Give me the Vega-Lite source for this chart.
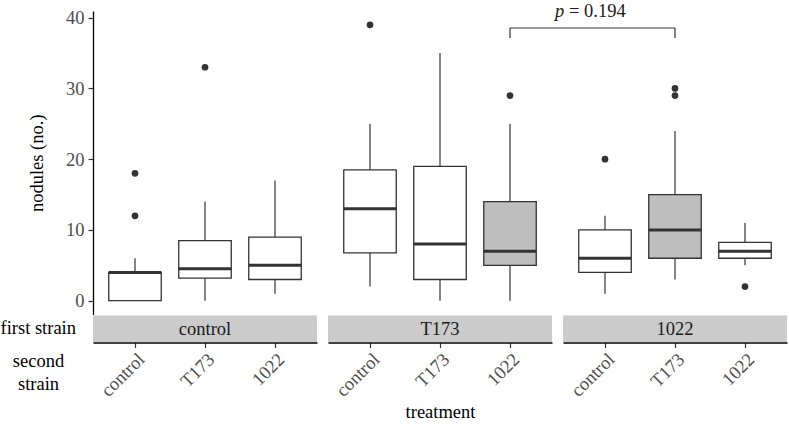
{
  "$schema": "https://vega.github.io/schema/vega-lite/v6.json",
  "padding": {"left": 0, "top": 2, "right": 2, "bottom": 0},
  "background": "white",
  "config": {
    "font": "Liberation Serif",
    "view": {"stroke": null},
    "axis": {
      "grid": false,
      "domainColor": "#000000",
      "domainWidth": 1.3,
      "tickColor": "#333333",
      "tickWidth": 1.2,
      "tickSize": 5,
      "labelFontSize": 18.5,
      "labelColor": "#4d4d4d",
      "titleFontSize": 18.5,
      "titleFontWeight": "normal",
      "titleColor": "#000000"
    }
  },
  "datasets": {
    "boxes": [
      {"first": "control", "second": "control", "lower": 0, "q1": 0, "median": 4, "q3": 4, "upper": 6, "compared": "no"},
      {"first": "control", "second": "T173", "lower": 0, "q1": 3.2, "median": 4.5, "q3": 8.5, "upper": 14, "compared": "no"},
      {"first": "control", "second": "1022", "lower": 1, "q1": 3, "median": 5, "q3": 9, "upper": 17, "compared": "no"},
      {"first": "T173", "second": "control", "lower": 2, "q1": 6.75, "median": 13, "q3": 18.5, "upper": 25, "compared": "no"},
      {"first": "T173", "second": "T173", "lower": 0, "q1": 3, "median": 8, "q3": 19, "upper": 35, "compared": "no"},
      {"first": "T173", "second": "1022", "lower": 0, "q1": 5, "median": 7, "q3": 14, "upper": 25, "compared": "yes"},
      {"first": "1022", "second": "control", "lower": 1, "q1": 4, "median": 6, "q3": 10, "upper": 12, "compared": "no"},
      {"first": "1022", "second": "T173", "lower": 3, "q1": 6, "median": 10, "q3": 15, "upper": 24, "compared": "yes"},
      {"first": "1022", "second": "1022", "lower": 5, "q1": 6, "median": 7, "q3": 8.25, "upper": 11, "compared": "no"}
    ],
    "outliers": [
      {"first": "control", "second": "control", "nodules": 12},
      {"first": "control", "second": "control", "nodules": 18},
      {"first": "control", "second": "T173", "nodules": 33},
      {"first": "T173", "second": "control", "nodules": 39},
      {"first": "T173", "second": "1022", "nodules": 29},
      {"first": "1022", "second": "control", "nodules": 20},
      {"first": "1022", "second": "T173", "nodules": 29},
      {"first": "1022", "second": "T173", "nodules": 30},
      {"first": "1022", "second": "1022", "nodules": 2}
    ],
    "strips": [
      {"first": "control"},
      {"first": "T173"},
      {"first": "1022"}
    ],
    "test": [
      {"first_a": "T173", "second_a": "1022", "first_b": "1022", "second_b": "T173", "p": "= 0.194"}
    ]
  },
  "spacing": 11,
  "bounds": "flush",
  "resolve": {"scale": {"x": "independent", "y": "independent"}, "axis": {"x": "independent", "y": "independent"}},
  "hconcat": [
    {
      "width": 224,
      "height": 303.5,
      "layer": [
        {
          "data": {"name": "strips"},
          "transform": [{"filter": "datum.first === 'control'"}],
          "mark": {"type": "rect", "fill": "#cbcbcb"},
          "encoding": {
            "x": {"value": 0},
            "x2": {"value": "width"},
            "y": {"value": {"expr": "height + 1"}},
            "y2": {"value": {"expr": "height + 27.5"}}
          }
        },
        {
          "data": {"name": "strips"},
          "transform": [{"filter": "datum.first === 'control'"}],
          "mark": {"type": "text", "fontSize": 18.5, "color": "#1a1a1a", "baseline": "middle", "align": "center"},
          "encoding": {
            "text": {"field": "first"},
            "x": {"datum": "T173", "type": "nominal"},
            "y": {"value": {"expr": "height + 14.5"}}
          }
        },
        {
          "data": {"name": "strips"},
          "transform": [{"filter": "datum.first === 'control'"}],
          "mark": {"type": "text", "fontSize": 18.5, "color": "#000000", "baseline": "middle", "align": "right", "text": "first strain"},
          "encoding": {
            "x": {"value": -17},
            "y": {"value": {"expr": "height + 13.5"}}
          }
        },
        {
          "data": {"name": "boxes"},
          "transform": [{"filter": "datum.first === 'control'"}],
          "layer": [
            {
              "mark": {"type": "rule", "color": "#333333", "strokeWidth": 1.2},
              "encoding": {"y": {"field": "lower", "type": "quantitative"}, "y2": {"field": "upper"}}
            },
            {
              "mark": {"type": "bar", "stroke": "#333333", "strokeWidth": 1.3},
              "encoding": {
                "y": {"field": "q1", "type": "quantitative"},
                "y2": {"field": "q3"},
                "fill": {"field": "compared", "type": "nominal", "scale": {"domain": ["no", "yes"], "range": ["#ffffff", "#bebebe"]}, "legend": null}
              }
            },
            {
              "mark": {"type": "tick", "color": "#333333", "thickness": 3, "opacity": 1},
              "encoding": {"y": {"field": "median", "type": "quantitative"}}
            }
          ],
          "encoding": {
            "x": {"field": "second", "type": "nominal"}
          }
        },
        {
          "data": {"name": "outliers"},
          "transform": [{"filter": "datum.first === 'control'"}],
          "mark": {"type": "point", "filled": true, "size": 45, "color": "#333333", "opacity": 1},
          "encoding": {
            "x": {"field": "second", "type": "nominal"},
            "y": {"field": "nodules", "type": "quantitative"}
          }
        }
      ],
      "encoding": {
        "x": {
          "field": "second", "type": "nominal",
          "scale": {"domain": ["control", "T173", "1022"], "paddingInner": 0.25, "paddingOuter": 0.225},
          "axis": {
            "title": ["second", "strain"], "offset": 28, "labelAngle": -45, "labelAlign": "right", "labelBaseline": "top", "labelPadding": 2,
            "titleX": -55, "titleY": 18, "titleAlign": "center", "titleBaseline": "middle", "titleAngle": 0, "titleLineHeight": 22.5
          }
        },
        "y": {
          "type": "quantitative",
          "scale": {"domain": [-1.95, 40.95], "nice": false, "zero": false},
          "axis": {"title": "nodules (no.)", "values": [0, 10, 20, 30, 40], "titlePadding": 19, "labelPadding": 4}
        }
      }
    },
    {
      "width": 224,
      "height": 303.5,
      "layer": [
        {
          "data": {"name": "strips"},
          "transform": [{"filter": "datum.first === 'T173'"}],
          "mark": {"type": "rect", "fill": "#cbcbcb"},
          "encoding": {
            "x": {"value": 0},
            "x2": {"value": "width"},
            "y": {"value": {"expr": "height + 1"}},
            "y2": {"value": {"expr": "height + 27.5"}}
          }
        },
        {
          "data": {"name": "strips"},
          "transform": [{"filter": "datum.first === 'T173'"}],
          "mark": {"type": "text", "fontSize": 18.5, "color": "#1a1a1a", "baseline": "middle", "align": "center"},
          "encoding": {
            "text": {"field": "first"},
            "x": {"datum": "T173", "type": "nominal"},
            "y": {"value": {"expr": "height + 14.5"}}
          }
        },
        {
          "data": {"name": "boxes"},
          "transform": [{"filter": "datum.first === 'T173'"}],
          "layer": [
            {
              "mark": {"type": "rule", "color": "#333333", "strokeWidth": 1.2},
              "encoding": {"y": {"field": "lower", "type": "quantitative"}, "y2": {"field": "upper"}}
            },
            {
              "mark": {"type": "bar", "stroke": "#333333", "strokeWidth": 1.3},
              "encoding": {
                "y": {"field": "q1", "type": "quantitative"},
                "y2": {"field": "q3"},
                "fill": {"field": "compared", "type": "nominal", "scale": {"domain": ["no", "yes"], "range": ["#ffffff", "#bebebe"]}, "legend": null}
              }
            },
            {
              "mark": {"type": "tick", "color": "#333333", "thickness": 3, "opacity": 1},
              "encoding": {"y": {"field": "median", "type": "quantitative"}}
            }
          ],
          "encoding": {
            "x": {"field": "second", "type": "nominal"}
          }
        },
        {
          "data": {"name": "outliers"},
          "transform": [{"filter": "datum.first === 'T173'"}],
          "mark": {"type": "point", "filled": true, "size": 45, "color": "#333333", "opacity": 1},
          "encoding": {
            "x": {"field": "second", "type": "nominal"},
            "y": {"field": "nodules", "type": "quantitative"}
          }
        },
        {
          "data": {"name": "test"},
          "mark": {"type": "rule", "color": "#333333", "strokeWidth": 1.2},
          "encoding": {
            "x": {"field": "second_a", "type": "nominal"},
            "x2": {"value": "width"},
            "y": {"datum": 38.55, "type": "quantitative"}
          }
        },
        {
          "data": {"name": "test"},
          "mark": {"type": "rule", "color": "#333333", "strokeWidth": 1.2},
          "encoding": {
            "x": {"field": "second_a", "type": "nominal"},
            "y": {"datum": 37.15, "type": "quantitative"},
            "y2": {"datum": 38.55}
          }
        }
      ],
      "encoding": {
        "x": {
          "field": "second", "type": "nominal",
          "scale": {"domain": ["control", "T173", "1022"], "paddingInner": 0.25, "paddingOuter": 0.225},
          "axis": {
            "title": "treatment", "offset": 28, "labelAngle": -45, "labelAlign": "right", "labelBaseline": "top", "labelPadding": 2, "titlePadding": 3
          }
        },
        "y": {
          "type": "quantitative",
          "scale": {"domain": [-1.95, 40.95], "nice": false, "zero": false},
          "axis": null
        }
      }
    },
    {
      "width": 224,
      "height": 303.5,
      "layer": [
        {
          "data": {"name": "strips"},
          "transform": [{"filter": "datum.first === '1022'"}],
          "mark": {"type": "rect", "fill": "#cbcbcb"},
          "encoding": {
            "x": {"value": 0},
            "x2": {"value": "width"},
            "y": {"value": {"expr": "height + 1"}},
            "y2": {"value": {"expr": "height + 27.5"}}
          }
        },
        {
          "data": {"name": "strips"},
          "transform": [{"filter": "datum.first === '1022'"}],
          "mark": {"type": "text", "fontSize": 18.5, "color": "#1a1a1a", "baseline": "middle", "align": "center"},
          "encoding": {
            "text": {"field": "first"},
            "x": {"datum": "T173", "type": "nominal"},
            "y": {"value": {"expr": "height + 14.5"}}
          }
        },
        {
          "data": {"name": "boxes"},
          "transform": [{"filter": "datum.first === '1022'"}],
          "layer": [
            {
              "mark": {"type": "rule", "color": "#333333", "strokeWidth": 1.2},
              "encoding": {"y": {"field": "lower", "type": "quantitative"}, "y2": {"field": "upper"}}
            },
            {
              "mark": {"type": "bar", "stroke": "#333333", "strokeWidth": 1.3},
              "encoding": {
                "y": {"field": "q1", "type": "quantitative"},
                "y2": {"field": "q3"},
                "fill": {"field": "compared", "type": "nominal", "scale": {"domain": ["no", "yes"], "range": ["#ffffff", "#bebebe"]}, "legend": null}
              }
            },
            {
              "mark": {"type": "tick", "color": "#333333", "thickness": 3, "opacity": 1},
              "encoding": {"y": {"field": "median", "type": "quantitative"}}
            }
          ],
          "encoding": {
            "x": {"field": "second", "type": "nominal"}
          }
        },
        {
          "data": {"name": "outliers"},
          "transform": [{"filter": "datum.first === '1022'"}],
          "mark": {"type": "point", "filled": true, "size": 45, "color": "#333333", "opacity": 1},
          "encoding": {
            "x": {"field": "second", "type": "nominal"},
            "y": {"field": "nodules", "type": "quantitative"}
          }
        },
        {
          "data": {"name": "test"},
          "mark": {"type": "rule", "color": "#333333", "strokeWidth": 1.2},
          "encoding": {
            "x": {"field": "second_b", "type": "nominal"},
            "x2": {"value": -11},
            "y": {"datum": 38.55, "type": "quantitative"}
          }
        },
        {
          "data": {"name": "test"},
          "mark": {"type": "rule", "color": "#333333", "strokeWidth": 1.2},
          "encoding": {
            "x": {"field": "second_b", "type": "nominal"},
            "y": {"datum": 37.15, "type": "quantitative"},
            "y2": {"datum": 38.55}
          }
        },
        {
          "data": {"name": "test"},
          "mark": {"type": "text", "fontSize": 18.5, "fontStyle": "italic", "color": "#1a1a1a", "align": "left", "baseline": "alphabetic", "dx": -120, "dy": -10.5, "text": "p"},
          "encoding": {
            "x": {"field": "second_b", "type": "nominal"},
            "y": {"datum": 38.55, "type": "quantitative"}
          }
        },
        {
          "data": {"name": "test"},
          "mark": {"type": "text", "fontSize": 18.5, "color": "#1a1a1a", "align": "left", "baseline": "alphabetic", "dx": -106, "dy": -10.5},
          "encoding": {
            "text": {"field": "p"},
            "x": {"field": "second_b", "type": "nominal"},
            "y": {"datum": 38.55, "type": "quantitative"}
          }
        }
      ],
      "encoding": {
        "x": {
          "field": "second", "type": "nominal",
          "scale": {"domain": ["control", "T173", "1022"], "paddingInner": 0.25, "paddingOuter": 0.225},
          "axis": {
            "title": null, "offset": 28, "labelAngle": -45, "labelAlign": "right", "labelBaseline": "top", "labelPadding": 2
          }
        },
        "y": {
          "type": "quantitative",
          "scale": {"domain": [-1.95, 40.95], "nice": false, "zero": false},
          "axis": null
        }
      }
    }
  ]
}
